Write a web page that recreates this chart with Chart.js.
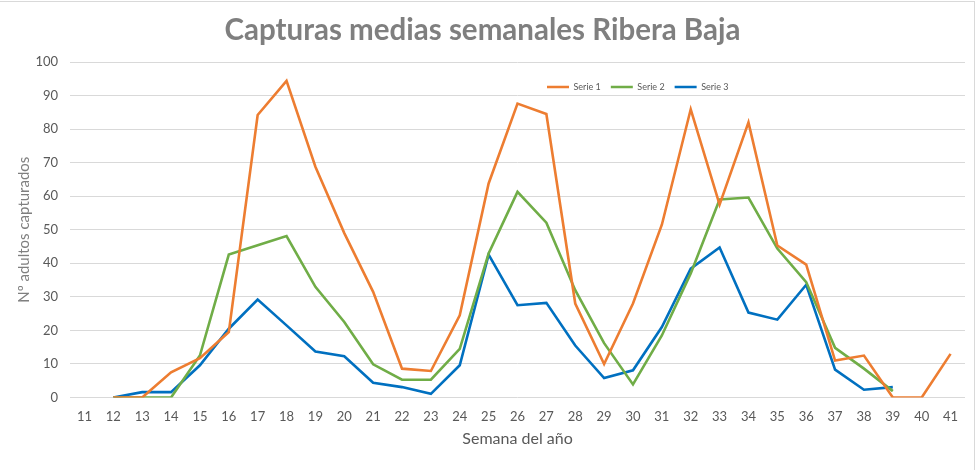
<!DOCTYPE html>
<html><head><meta charset="utf-8">
<script src="https://cdn.jsdelivr.net/npm/chart.js@4"></script>
<style>
body{margin:0;background:#fff}
#wrap{position:relative;width:980px;height:470px}
#frame{position:absolute;left:0;top:1px;width:974px;height:480px;border-top:1px solid #d9d9d9;border-right:1px solid #d9d9d9;pointer-events:none}
</style>
</head><body>
<div id="wrap"><canvas id="c" width="980" height="470"></canvas><div id="frame"></div></div>
<script>
const weeks = ['11','12','13','14','15','16','17','18','19','20','21','22','23','24','25','26','27','28','29','30','31','32','33','34','35','36','37','38','39','40','41'];
const serie1 = [null,0,0,7.5,11.7,19.5,84.2,94.4,68.8,49,31.5,8.6,7.9,24.5,63.8,87.6,84.5,28,10,28,51.5,85.9,57.5,82,45.3,39.6,11,12.5,0,0,13];
const serie2 = [null,0,0,0,12.5,42.6,45.4,48.1,33,22.5,9.9,5.3,5.3,14.5,42.9,61.3,52.1,32,16.2,3.9,18.5,37,59,59.6,44.4,34.4,14.8,8.6,1.9,null,null];
const serie3 = [null,0,1.6,1.6,9.6,20.5,29.2,21.5,13.7,12.3,4.4,3.1,1.1,9.6,42.6,27.5,28.2,15.5,5.8,8.1,21,38.4,44.7,25.3,23.2,33.6,8.3,2.3,3.1,null,null];
const seriesNames = ['Serie 1','Serie 2','Serie 3'];
const seriesColors = ['#ED7D31','#70AD47','#0070C0'];

Chart.defaults.font.family = 'Lato';

const legendShift = {
  id: 'legendShift',
  afterLayout(chart) {
    const lg = chart.legend;
    lg.left = 537; lg.right = 937; lg.top = 72.5; lg.bottom = 95;
  }
};

const mk = (i, data) => ({
  label: seriesNames[i], data,
  borderColor: seriesColors[i], backgroundColor: seriesColors[i],
  borderWidth: 2.6, pointRadius: 0, pointHoverRadius: 0, tension: 0, spanGaps: false
});

new Chart(document.getElementById('c'), {
  type: 'line',
  data: { labels: weeks, datasets: [mk(0, serie1), mk(1, serie2), mk(2, serie3)] },
  options: {
    responsive: false, devicePixelRatio: 1, animation: false,
    layout: { padding: { top: 0, right: 15, bottom: 0, left: 0 } },
    plugins: {
      title: { display: true, text: 'Capturas medias semanales Ribera Baja', color: '#7f7f7f',
        font: { size: 29.5, weight: 'bold' }, padding: { top: 12.3, bottom: 14.3 } },
      legend: { display: true, position: 'top', align: 'start', maxHeight: 0.001,
        labels: { usePointStyle: true, pointStyle: 'line', pointStyleWidth: 22, padding: 10,
          color: '#595959', font: { size: 9 } } },
      tooltip: { enabled: false }
    },
    scales: {
      x: {
        offset: true,
        grid: { display: false, drawTicks: false },
        border: { display: false },
        ticks: { color: '#595959', font: { size: 13 }, padding: 12, maxRotation: 0, autoSkip: false },
        title: { display: true, text: 'Semana del año', color: '#595959', font: { size: 16 }, padding: { top: 0, bottom: 22 } },
        afterFit: (s) => { s.height = 72.5; }
      },
      y: {
        min: 0, max: 100,
        grid: { color: '#d9d9d9', lineWidth: 1, drawTicks: false },
        border: { display: false },
        ticks: { stepSize: 10, color: '#595959', font: { size: 13 }, padding: 12 },
        title: { display: true, text: 'Nº adultos capturados', color: '#7f7f7f', font: { size: 15 }, padding: { top: 15, bottom: 0 } },
        afterFit: (s) => { s.width = 70; }
      }
    }
  },
  plugins: [legendShift]
});
</script>
</body></html>
